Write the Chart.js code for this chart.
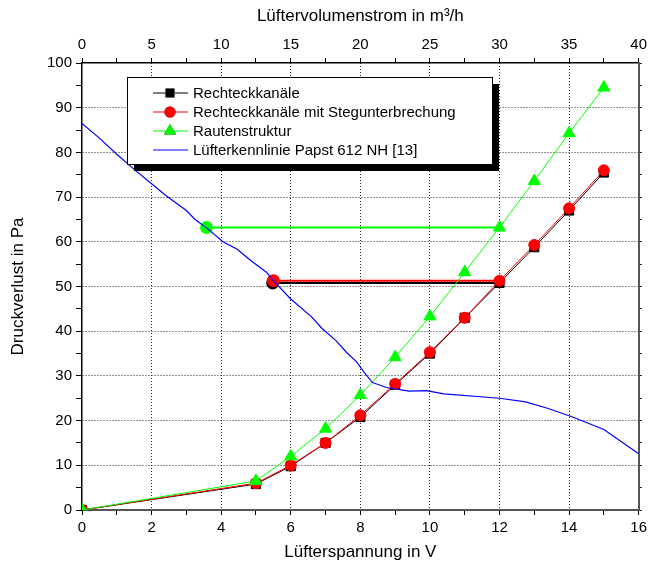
<!DOCTYPE html>
<html>
<head>
<meta charset="utf-8">
<script src="https://cdn.jsdelivr.net/npm/chart.js@4/dist/chart.umd.min.js"></script>
<style>
  html, body { margin: 0; padding: 0; background: #fff; }
  #wrap { width: 651px; height: 569px; }
</style>
</head>
<body>
<div id="wrap"><canvas id="chart" width="651" height="569"></canvas></div>
<script>
// Lüfterspannung in V (gemeinsame x-Werte der Messreihen)
const spannung = [0, 5, 6, 7, 8, 9, 10, 11, 12, 13, 14, 15];

// Druckverlust in Pa
const rechteck = [0, 5.8, 9.8, 15, 20.8, 28, 35, 43, 50.8, 58.8, 67, 75.5];
const stegunterbrechung = [0, 6, 10, 15, 21.2, 28.2, 35.3, 43, 51.3, 59.3, 67.5, 76];
const raute = [0, 6.5, 12, 18.2, 25.7, 34.2, 43.3, 53.2, 63.2, 73.6, 84.3, 94.5];

// Lüfterkennlinie Papst 612 NH
const kennlinieU = [0, 0.5, 1.0, 1.5, 2.0, 2.4, 3.0, 3.25, 3.6, 4.05, 4.45, 4.85, 5.3, 5.5, 6.0, 6.6, 6.9, 7.3, 7.6, 7.9, 8.1, 8.35, 8.75, 9.4, 9.9, 10.4, 12.0, 12.75, 13.4, 14.1, 15.0, 16.0];
const kennlinieP = [86.5, 83.2, 79.6, 76.2, 73.0, 70.4, 67.0, 65.0, 63.0, 60.0, 58.4, 55.8, 53.2, 51.3, 47.2, 43.2, 40.6, 37.9, 35.3, 33.1, 30.9, 28.5, 27.4, 26.6, 26.7, 26.0, 25.0, 24.2, 22.7, 20.8, 18.0, 12.6];

// Betriebspunkte (Schnittpunkt mit der Kennlinie) -> waagrechte Linie bis 12 V
const bpRechteck = { u: [5.48, 12], p: [50.8, 50.8] };
const bpSteg = { u: [5.5, 12], p: [51.3, 51.3] };
const bpRaute = { u: [3.58, 12], p: [63.2, 63.2] };

// Achsen
const xTicks = [0, 2, 4, 6, 8, 10, 12, 14, 16];
const x2Ticks = [0, 5, 10, 15, 20, 25, 30, 35, 40];
const yTicks = [0, 10, 20, 30, 40, 50, 60, 70, 80, 90, 100];

const legendLabels = ['Rechteckkanäle', 'Rechteckkanäle mit Stegunterbrechung', 'Rautenstruktur', 'Lüfterkennlinie Papst 612 NH [13]'];

const FONT = '"Liberation Sans", Arial, sans-serif';

function toPoints(xs, ys) {
    return xs.map((x, i) => ({ x: x, y: ys[i] }));
}

const datasets = [
    {
        label: legendLabels[0],
        data: toPoints(spannung, rechteck),
        borderColor: '#000', backgroundColor: '#000',
        borderWidth: 1, pointStyle: 'rect', pointRadius: 6.5,
        order: 4
    },
    {
        label: legendLabels[1],
        data: toPoints(spannung, stegunterbrechung),
        borderColor: '#ff0000', backgroundColor: '#ff0000',
        borderWidth: 1, pointStyle: 'circle', pointRadius: 5.5,
        order: 3
    },
    {
        label: legendLabels[2],
        data: toPoints(spannung, raute),
        borderColor: '#00ff00', backgroundColor: '#00ff00',
        borderWidth: 1, pointStyle: 'triangle', pointRadius: 7,
        order: 2
    },
    {
        label: legendLabels[3],
        data: toPoints(kennlinieU, kennlinieP),
        borderColor: '#0000ff', backgroundColor: '#0000ff',
        borderWidth: 1.2, pointRadius: 0,
        order: 1
    },
    {
        label: 'bp1',
        data: toPoints(bpRechteck.u, bpRechteck.p),
        borderColor: '#000', backgroundColor: '#000',
        borderWidth: 2, pointRadius: [5.5, 0],
        order: 7
    },
    {
        label: 'bp2',
        data: toPoints(bpSteg.u, bpSteg.p),
        borderColor: '#ff0000', backgroundColor: '#ff0000',
        borderWidth: 2, pointRadius: [5.5, 0],
        order: 6
    },
    {
        label: 'bp3',
        data: toPoints(bpRaute.u, bpRaute.p),
        borderColor: '#00ff00', backgroundColor: '#00ff00',
        borderWidth: 2, pointRadius: [5.5, 0],
        order: 5
    }
];

// Legende mit Schatten innerhalb der Zeichenfläche
const boxLegend = {
    id: 'boxLegend',
    afterDatasetsDraw(chart) {
        const ctx = chart.ctx;
        const x = 127, y = 77, w = 365, h = 87;
        ctx.save();
        ctx.fillStyle = '#000';
        ctx.fillRect(x + 7, y + 7, w, h);
        ctx.fillStyle = '#fff';
        ctx.fillRect(x, y, w, h);
        ctx.strokeStyle = '#000';
        ctx.lineWidth = 1;
        ctx.strokeRect(x + 0.5, y + 0.5, w, h);

        ctx.font = '15px ' + FONT;
        ctx.textBaseline = 'middle';
        for (let i = 0; i < 4; i++) {
            const ds = chart.data.datasets[i];
            const cy = y + 16 + i * 19;
            ctx.strokeStyle = ds.borderColor;
            ctx.lineWidth = 1.2;
            ctx.beginPath();
            ctx.moveTo(153, cy);
            ctx.lineTo(188, cy);
            ctx.stroke();
            if (ds.pointRadius > 0) {
                Chart.helpers.drawPoint(ctx, {
                    pointStyle: ds.pointStyle, radius: ds.pointRadius, rotation: 0, borderWidth: 0
                }, 170, cy);
                ctx.fillStyle = ds.backgroundColor;
                ctx.fill();
            }
            ctx.fillStyle = '#000';
            ctx.fillText(ds.label, 193, cy + 1);
        }
        ctx.restore();
    }
};

const dotted = 'rgba(0,0,0,0.85)';

new Chart(document.getElementById('chart'), {
    type: 'scatter',
    data: { datasets: datasets },
    options: {
        responsive: false,
        animation: false,
        layout: { padding: 0 },
        elements: { line: { tension: 0 }, point: { borderWidth: 0, hoverRadius: 0 } },
        plugins: {
            legend: { display: false },
            tooltip: { enabled: false }
        },
        datasets: { scatter: { showLine: true } },
        scales: {
            x: {
                type: 'linear', position: 'bottom', min: 0, max: 16,
                afterFit(s) { s.height = 59; },
                afterBuildTicks(s) { s.ticks = [...Array(17).keys()].map(v => ({ value: v })); },
                ticks: {
                    color: '#000', font: { family: FONT, size: 15 }, padding: 4, maxRotation: 0,
                    autoSkip: false,
                    callback: v => xTicks.includes(v) ? String(v) : ''
                },
                grid: {
                    color: c => (c.tick && xTicks.includes(c.tick.value) && c.tick.value > 0 && c.tick.value < 16) ? dotted : 'rgba(0,0,0,0)',
                    tickColor: '#000', tickLength: 5, tickBorderDash: [], lineWidth: 1
                },
                border: { color: '#555', width: 2, dash: [1, 2] },
                title: {
                    display: true, text: 'Lüfterspannung in V', color: '#000',
                    font: { family: FONT, size: 17 }, padding: { top: 0, bottom: 6 }
                }
            },
            x2: {
                type: 'linear', position: 'top', min: 0, max: 40,
                afterFit(s) { s.height = 63; },
                afterBuildTicks(s) { s.ticks = [...Array(17).keys()].map(v => ({ value: v * 2.5 })); },
                ticks: {
                    color: '#000', font: { family: FONT, size: 15 }, padding: 4, maxRotation: 0,
                    autoSkip: false,
                    callback: v => x2Ticks.includes(v) ? String(v) : ''
                },
                grid: { drawOnChartArea: false, tickColor: '#000', tickLength: 5 },
                border: { color: '#000', width: 1.5 },
                title: {
                    display: true, text: 'Lüftervolumenstrom in m³/h', color: '#000',
                    font: { family: FONT, size: 17 }, padding: { top: 6, bottom: 0 }
                }
            },
            y: {
                type: 'linear', position: 'left', min: 0, max: 100,
                afterFit(s) { s.width = 82; },
                afterBuildTicks(s) { s.ticks = [...Array(21).keys()].map(v => ({ value: v * 5 })); },
                ticks: {
                    color: '#000', font: { family: FONT, size: 15 }, padding: 4,
                    autoSkip: false,
                    callback: v => yTicks.includes(v) ? String(v) : ''
                },
                grid: {
                    color: c => (c.tick && yTicks.includes(c.tick.value) && c.tick.value > 0 && c.tick.value < 100) ? dotted : 'rgba(0,0,0,0)',
                    tickColor: '#000', tickLength: 6, tickBorderDash: [], lineWidth: 1
                },
                border: { color: '#000', width: 1.5, dash: [1, 2] },
                title: {
                    display: true, text: 'Druckverlust in Pa', color: '#000',
                    font: { family: FONT, size: 17 }, padding: { top: 8, bottom: 0 }
                }
            },
            y2: {
                type: 'linear', position: 'right', min: 0, max: 100,
                afterFit(s) { s.width = 10; },
                afterBuildTicks(s) { s.ticks = [...Array(21).keys()].map(v => ({ value: v * 5 })); },
                ticks: { display: false },
                grid: { drawOnChartArea: false, tickColor: '#000', tickLength: 3 },
                border: { color: '#555', width: 2 }
            }
        }
    },
    plugins: [boxLegend]
});
</script>
</body>
</html>
